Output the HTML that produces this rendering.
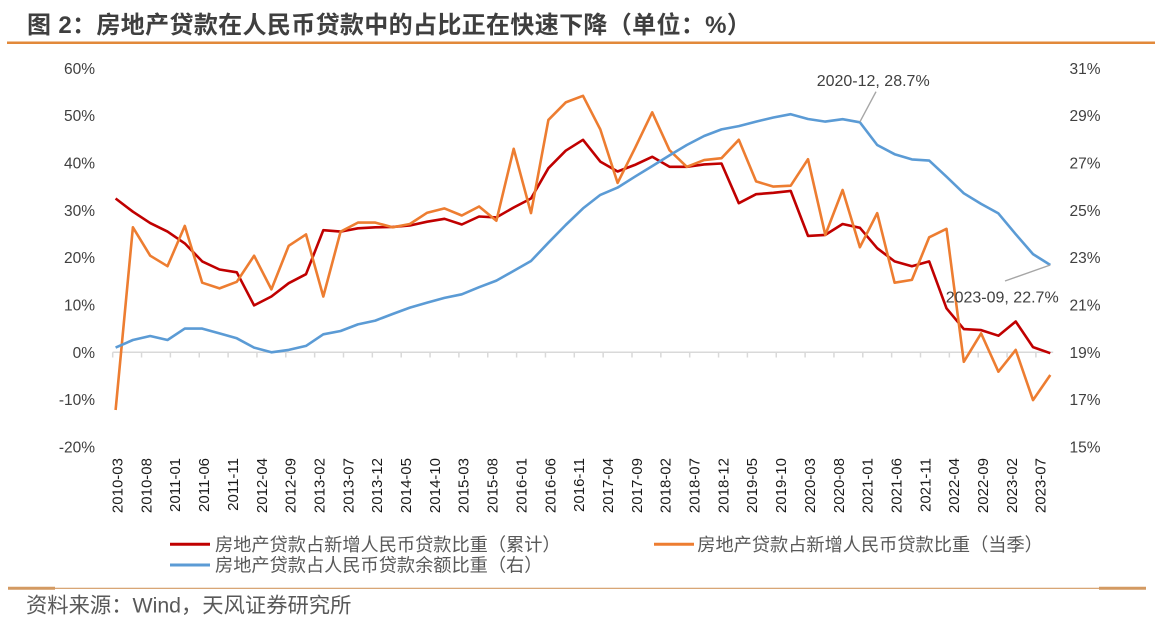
<!DOCTYPE html>
<html><head><meta charset="utf-8"><style>
html,body{margin:0;padding:0;background:#fff;}
body{width:1170px;height:633px;overflow:hidden;}
svg{display:block;}
</style></head><body>
<svg width="1170" height="633" viewBox="0 0 1170 633" xmlns="http://www.w3.org/2000/svg">
<rect width="1170" height="633" fill="#fff"/>
<!-- Title -->
<text x="27" y="33" font-family="'Liberation Sans','Noto Sans CJK SC',sans-serif" font-size="24" font-weight="bold" fill="#3f3f3f" letter-spacing="0.35">图 2：房地产贷款在人民币贷款中的占比正在快速下降（单位：%）</text>
<line x1="7" y1="42.7" x2="1155" y2="42.7" stroke="#E2893A" stroke-width="2.5"/>

<!-- Left axis labels -->
<g font-family="'Liberation Sans',sans-serif" font-size="15.5" fill="#404040" text-anchor="end">
<text x="95" y="73.8">60%</text>
<text x="95" y="121.1">50%</text>
<text x="95" y="168.5">40%</text>
<text x="95" y="215.8">30%</text>
<text x="95" y="263.1">20%</text>
<text x="95" y="310.5">10%</text>
<text x="95" y="357.8">0%</text>
<text x="95" y="405.1">-10%</text>
<text x="95" y="452.5">-20%</text>
</g>
<!-- Right axis labels -->
<g font-family="'Liberation Sans',sans-serif" font-size="15.5" fill="#404040" text-anchor="start">
<text x="1069.5" y="73.8">31%</text>
<text x="1069.5" y="121.1">29%</text>
<text x="1069.5" y="168.5">27%</text>
<text x="1069.5" y="215.8">25%</text>
<text x="1069.5" y="263.1">23%</text>
<text x="1069.5" y="310.5">21%</text>
<text x="1069.5" y="357.8">19%</text>
<text x="1069.5" y="405.1">17%</text>
<text x="1069.5" y="452.5">15%</text>
</g>

<!-- X axis -->
<g stroke="#d9d9d9" stroke-width="1.5">
<line x1="112.7" y1="352.3" x2="1053.2" y2="352.3"/>
<path d="M112.7 352.3V357.5M141.55 352.3V357.5M170.4 352.3V357.5M199.25 352.3V357.5M228.1 352.3V357.5M256.95 352.3V357.5M285.8 352.3V357.5M314.65 352.3V357.5M343.5 352.3V357.5M372.35 352.3V357.5M401.2 352.3V357.5M430.05 352.3V357.5M458.9 352.3V357.5M487.75 352.3V357.5M516.6 352.3V357.5M545.45 352.3V357.5M574.3 352.3V357.5M603.15 352.3V357.5M632 352.3V357.5M660.85 352.3V357.5M689.7 352.3V357.5M718.55 352.3V357.5M747.4 352.3V357.5M776.25 352.3V357.5M805.1 352.3V357.5M833.95 352.3V357.5M862.8 352.3V357.5M891.65 352.3V357.5M920.5 352.3V357.5M949.35 352.3V357.5M978.2 352.3V357.5M1007.05 352.3V357.5M1035.9 352.3V357.5" fill="none"/>
</g>

<!-- X labels -->
<g font-family="'Liberation Sans',sans-serif" font-size="15" fill="#1a1a1a" text-anchor="end">
<text transform="translate(122.5,458) rotate(-90)">2010-03</text>
<text transform="translate(151.35,458) rotate(-90)">2010-08</text>
<text transform="translate(180.2,458) rotate(-90)">2011-01</text>
<text transform="translate(209.05,458) rotate(-90)">2011-06</text>
<text transform="translate(237.9,458) rotate(-90)">2011-11</text>
<text transform="translate(266.75,458) rotate(-90)">2012-04</text>
<text transform="translate(295.6,458) rotate(-90)">2012-09</text>
<text transform="translate(324.45,458) rotate(-90)">2013-02</text>
<text transform="translate(353.3,458) rotate(-90)">2013-07</text>
<text transform="translate(382.15,458) rotate(-90)">2013-12</text>
<text transform="translate(411,458) rotate(-90)">2014-05</text>
<text transform="translate(439.85,458) rotate(-90)">2014-10</text>
<text transform="translate(468.7,458) rotate(-90)">2015-03</text>
<text transform="translate(497.55,458) rotate(-90)">2015-08</text>
<text transform="translate(526.4,458) rotate(-90)">2016-01</text>
<text transform="translate(555.25,458) rotate(-90)">2016-06</text>
<text transform="translate(584.1,458) rotate(-90)">2016-11</text>
<text transform="translate(612.95,458) rotate(-90)">2017-04</text>
<text transform="translate(641.8,458) rotate(-90)">2017-09</text>
<text transform="translate(670.65,458) rotate(-90)">2018-02</text>
<text transform="translate(699.5,458) rotate(-90)">2018-07</text>
<text transform="translate(728.35,458) rotate(-90)">2018-12</text>
<text transform="translate(757.2,458) rotate(-90)">2019-05</text>
<text transform="translate(786.05,458) rotate(-90)">2019-10</text>
<text transform="translate(814.9,458) rotate(-90)">2020-03</text>
<text transform="translate(843.75,458) rotate(-90)">2020-08</text>
<text transform="translate(872.6,458) rotate(-90)">2021-01</text>
<text transform="translate(901.45,458) rotate(-90)">2021-06</text>
<text transform="translate(930.3,458) rotate(-90)">2021-11</text>
<text transform="translate(959.15,458) rotate(-90)">2022-04</text>
<text transform="translate(988,458) rotate(-90)">2022-09</text>
<text transform="translate(1016.85,458) rotate(-90)">2023-02</text>
<text transform="translate(1045.7,458) rotate(-90)">2023-07</text>
</g>

<!-- Series: red (cumulative) -->
<polyline fill="none" stroke="#C00000" stroke-width="2.6" stroke-linejoin="round" points="115.6,198.5 132.9,211.7 150.2,223.1 167.5,231.6 184.8,243.4 202.2,261.4 219.5,269.5 236.8,272.3 254.1,305.4 271.4,296.5 288.7,283.2 306.0,274.2 323.3,230.2 340.6,231.6 357.9,228.3 375.3,227.3 392.6,226.9 409.9,225.5 427.2,221.7 444.5,218.8 461.8,224.5 479.1,216.5 496.4,217.4 513.7,207.5 531.0,198.5 548.4,168.2 565.7,150.7 583.0,139.8 600.3,161.6 617.6,171.5 634.9,164.9 652.2,156.8 669.5,166.8 686.8,166.8 704.1,164.4 721.5,163.5 738.8,203.2 756.1,194.2 773.4,192.8 790.7,190.9 808.0,235.9 825.3,234.9 842.6,224.0 859.9,227.8 877.2,248.2 894.6,261.4 911.9,266.2 929.2,261.4 946.5,308.3 963.8,329.1 981.1,330.1 998.4,335.7 1015.7,321.5 1033.0,347.1 1050.3,353.2"/>

<!-- Series: orange (quarterly) -->
<polyline fill="none" stroke="#ED7D31" stroke-width="2.6" stroke-linejoin="round" points="115.6,410.0 132.9,227.3 150.2,255.7 167.5,266.2 184.8,225.9 202.2,282.7 219.5,288.4 236.8,281.8 254.1,255.7 271.4,289.4 288.7,245.8 306.0,234.4 323.3,296.5 340.6,231.6 357.9,222.6 375.3,222.6 392.6,227.3 409.9,224.0 427.2,212.7 444.5,208.4 461.8,215.5 479.1,206.5 496.4,220.7 513.7,148.8 531.0,213.1 548.4,119.9 565.7,102.4 583.0,95.8 600.3,129.4 617.6,182.9 634.9,148.3 652.2,112.3 669.5,150.2 686.8,166.8 704.1,160.1 721.5,158.2 738.8,139.8 756.1,181.4 773.4,186.6 790.7,185.7 808.0,159.2 825.3,234.9 842.6,190.0 859.9,247.2 877.2,213.1 894.6,282.7 911.9,279.9 929.2,237.3 946.5,228.8 963.8,361.8 981.1,333.4 998.4,371.7 1015.7,349.9 1033.0,400.1 1050.3,375.0"/>

<!-- Series: blue (stock share, right axis) -->
<polyline fill="none" stroke="#5B9BD5" stroke-width="2.6" stroke-linejoin="round" points="115.6,347.6 132.9,340.0 150.2,336.0 167.5,340.0 184.8,328.6 202.2,328.6 219.5,333.4 236.8,338.3 254.1,347.6 271.4,352.3 288.7,349.9 306.0,345.9 323.3,334.3 340.6,331.0 357.9,324.4 375.3,320.6 392.6,314.0 409.9,307.6 427.2,302.6 444.5,297.9 461.8,294.3 479.1,287.2 496.4,280.6 513.7,270.9 531.0,261.0 548.4,242.7 565.7,225.0 583.0,208.4 600.3,194.9 617.6,187.6 634.9,176.7 652.2,166.1 669.5,155.4 686.8,145.0 704.1,136.0 721.5,129.4 738.8,126.1 756.1,121.6 773.4,117.5 790.7,114.2 808.0,119.0 825.3,121.6 842.6,119.2 859.9,122.3 877.2,145.0 894.6,154.2 911.9,159.4 929.2,160.6 946.5,176.7 963.8,193.3 981.1,203.9 998.4,213.4 1015.7,234.2 1033.0,254.1 1050.3,265.0"/>

<!-- Annotations -->
<g stroke="#a6a6a6" stroke-width="1.4">
<line x1="876" y1="91.7" x2="860" y2="121.7"/>
<line x1="1005" y1="281" x2="1050.3" y2="265"/>
</g>
<g font-family="'Liberation Sans',sans-serif" font-size="16" fill="#404040">
<text x="816.7" y="85.8">2020-12, 28.7%</text>
<text x="945.7" y="302.5">2023-09, 22.7%</text>
</g>

<!-- Legend -->
<g stroke-width="3">
<line x1="170" y1="544.3" x2="210" y2="544.3" stroke="#C00000"/>
<line x1="654" y1="544.3" x2="694" y2="544.3" stroke="#ED7D31"/>
<line x1="170" y1="565" x2="210" y2="565" stroke="#5B9BD5"/>
</g>
<g font-family="'Liberation Sans','Noto Sans CJK SC',sans-serif" font-size="18.2" fill="#595959">
<text x="215" y="551">房地产贷款占新增人民币贷款比重（累计）</text>
<text x="697.3" y="551">房地产贷款占新增人民币贷款比重（当季）</text>
<text x="215" y="571.7">房地产贷款占人民币贷款余额比重（右）</text>
</g>

<!-- Footer -->
<line x1="8" y1="588.3" x2="1146" y2="588.3" stroke="#D39A62" stroke-width="1.2"/>
<line x1="8" y1="588.3" x2="55" y2="588.3" stroke="#D39A62" stroke-width="3"/>
<line x1="1099" y1="588.3" x2="1146" y2="588.3" stroke="#D39A62" stroke-width="3"/>
<text x="26" y="612.5" font-family="'Liberation Sans','Noto Sans CJK SC',sans-serif" font-size="21.3" fill="#595959">资料来源：Wind，天风证券研究所</text>
</svg>
</body></html>
